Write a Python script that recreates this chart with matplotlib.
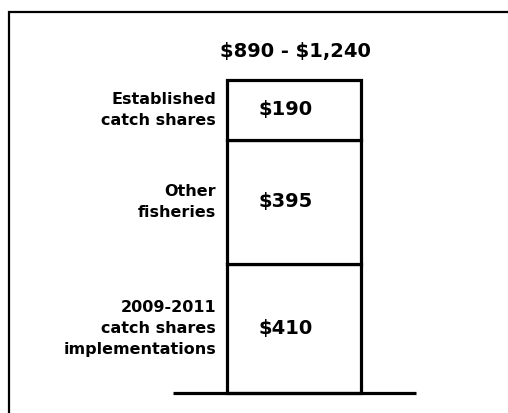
import matplotlib
matplotlib.use("Agg")
import matplotlib.pyplot as plt
from matplotlib.patches import Rectangle

# stacked segments, bottom to top
segments = ["2009-2011\ncatch shares\nimplementations", "Other\nfisheries", "Established\ncatch shares"]
values = [410, 395, 190]
value_labels = [r"\$410", r"\$395", r"\$190"]
title = r"\$890 - \$1,240"

plt.rcParams["font.family"] = ["DejaVu Sans"]
plt.rcParams["font.weight"] = "bold"

fig = plt.figure(figsize=(5.08, 4.13), dpi=100)
ax = fig.add_axes([0, 0, 1, 1])
ax.set_xlim(0, 508)
ax.set_ylim(-63.6, 1249)
ax.axis("off")

bar_x = 294
bar_w = 134
bottom = 0
for seg, val, lab in zip(segments, values, value_labels):
    ax.bar(bar_x, val, width=bar_w, bottom=bottom, color="white",
           edgecolor="black", linewidth=2.3)
    mid = bottom + val / 2
    ax.text(bar_x - 8, mid, lab, ha="center", va="center", fontsize=14, fontweight="bold")
    ax.text(216, mid, seg, ha="right", va="center", fontsize=11.5, fontweight="bold",
            linespacing=1.5)
    bottom += val

ax.plot([173, 416], [0, 0], color="black", linewidth=2.3, solid_capstyle="butt")
ax.text(295, bottom + 90, title, ha="center", va="center", fontsize=14, fontweight="bold")

# outer frame
fig.patches.append(Rectangle((9 / 508, -0.1), 1.2, 1.1 - 12 / 413, transform=fig.transFigure,
                             fill=False, edgecolor="black", linewidth=1.6))

fig.savefig("out.png", dpi=100)
